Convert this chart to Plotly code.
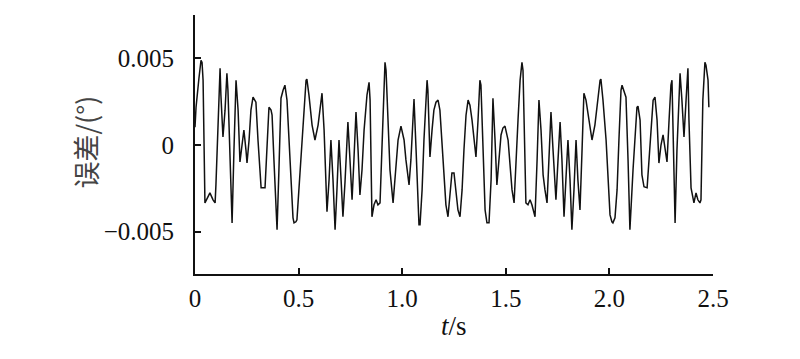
import plotly.graph_objects as go

# time (s)
t = [0.000, 0.005, 0.019, 0.029, 0.034, 0.039, 0.048, 0.063, 0.072, 0.087,
     0.097, 0.101, 0.111, 0.121, 0.125, 0.135, 0.145, 0.154, 0.159, 0.169,
     0.179, 0.188, 0.198, 0.208, 0.217, 0.227, 0.236, 0.246, 0.251, 0.261,
     0.270, 0.280, 0.294, 0.304, 0.319, 0.338, 0.347, 0.357, 0.367, 0.372,
     0.381, 0.396, 0.405, 0.415, 0.425, 0.434, 0.444, 0.454, 0.463, 0.473,
     0.478, 0.487, 0.492, 0.502, 0.516, 0.526, 0.536, 0.540, 0.550, 0.565,
     0.579, 0.594, 0.608, 0.613, 0.623, 0.637, 0.647, 0.656, 0.666, 0.676,
     0.685, 0.695, 0.705, 0.714, 0.724, 0.738, 0.748, 0.758, 0.767, 0.777,
     0.787, 0.796, 0.806, 0.816, 0.830, 0.840, 0.845, 0.854, 0.864, 0.874,
     0.883, 0.893, 0.902, 0.912, 0.917, 0.922, 0.931, 0.941, 0.956, 0.965,
     0.980, 0.994, 1.009, 1.018, 1.033, 1.042, 1.057, 1.067, 1.081, 1.086,
     1.096, 1.105, 1.120, 1.124, 1.134, 1.144, 1.153, 1.163, 1.173, 1.182,
     1.192, 1.202, 1.211, 1.221, 1.231, 1.240, 1.250, 1.260, 1.269, 1.279,
     1.289, 1.298, 1.308, 1.318, 1.327, 1.337, 1.346, 1.356, 1.366, 1.375,
     1.380, 1.390, 1.400, 1.409, 1.419, 1.429, 1.438, 1.448, 1.457, 1.467,
     1.477, 1.486, 1.496, 1.511, 1.520, 1.530, 1.540, 1.549, 1.559, 1.569,
     1.578, 1.583, 1.593, 1.597, 1.607, 1.617, 1.626, 1.641, 1.651, 1.660,
     1.670, 1.680, 1.689, 1.699, 1.708, 1.718, 1.728, 1.742, 1.752, 1.762,
     1.771, 1.781, 1.790, 1.800, 1.810, 1.819, 1.829, 1.839, 1.848, 1.858,
     1.868, 1.877, 1.887, 1.897, 1.906, 1.916, 1.930, 1.945, 1.955, 1.959,
     1.969, 1.984, 1.993, 2.003, 2.012, 2.017, 2.027, 2.037, 2.046, 2.056,
     2.061, 2.070, 2.080, 2.090, 2.099, 2.114, 2.124, 2.133, 2.138, 2.148,
     2.157, 2.167, 2.182, 2.196, 2.211, 2.220, 2.230, 2.239, 2.249, 2.259,
     2.268, 2.278, 2.288, 2.297, 2.302, 2.307, 2.317, 2.326, 2.341, 2.350,
     2.360, 2.370, 2.379, 2.384, 2.394, 2.408, 2.418, 2.427, 2.437, 2.442,
     2.451, 2.461, 2.466, 2.476, 2.480]

# error (deg)
err = [0.00103, 0.00218, 0.00385, 0.00489, 0.00477, 0.00374, -0.00334, -0.00293, -0.00276, -0.00316,
       -0.00334, -0.00230, 0.00144, 0.00443, 0.00288, 0.00046, 0.00201, 0.00414, 0.00316, -0.00144,
       -0.00449, -0.00029, 0.00374, 0.00201, -0.00098, 0.00000, 0.00086, -0.00029, -0.00104, 0.00029,
       0.00201, 0.00276, 0.00247, 0.00029, -0.00247, -0.00247, -0.00029, 0.00218, 0.00201, 0.00172,
       -0.00086, -0.00489, -0.00144, 0.00270, 0.00316, 0.00345, 0.00259, 0.00029, -0.00259, -0.00420,
       -0.00449, -0.00443, -0.00431, -0.00259, 0.00029, 0.00201, 0.00374, 0.00380, 0.00288, 0.00115,
       0.00029, 0.00115, 0.00259, 0.00299, 0.00086, -0.00385, -0.00201, 0.00029, -0.00201, -0.00489,
       -0.00259, 0.00029, -0.00201, -0.00414, -0.00213, 0.00132, -0.00086, -0.00316, -0.00086, 0.00190,
       -0.00029, -0.00288, -0.00144, 0.00086, 0.00288, 0.00362, 0.00259, -0.00414, -0.00345, -0.00316,
       -0.00345, -0.00334, -0.00029, 0.00374, 0.00477, 0.00431, 0.00144, -0.00144, -0.00334, -0.00201,
       0.00029, 0.00109, 0.00029, -0.00086, -0.00230, -0.00086, 0.00265, -0.00029, -0.00460, -0.00460,
       -0.00259, 0.00029, 0.00374, 0.00316, -0.00069, 0.00086, 0.00201, 0.00247, 0.00259, 0.00201,
       0.00029, -0.00172, -0.00345, -0.00414, -0.00259, -0.00161, -0.00161, -0.00259, -0.00374, -0.00414,
       -0.00259, -0.00029, 0.00172, 0.00259, 0.00230, 0.00144, 0.00029, -0.00069, 0.00144, 0.00374,
       0.00345, -0.00029, -0.00374, -0.00449, -0.00449, -0.00201, 0.00270, 0.00029, -0.00230, -0.00086,
       0.00058, 0.00098, 0.00109, 0.00029, -0.00115, -0.00259, -0.00334, -0.00144, 0.00144, 0.00374,
       0.00477, 0.00431, -0.00029, -0.00334, -0.00345, -0.00316, -0.00345, -0.00414, -0.00086, 0.00259,
       0.00086, -0.00172, -0.00259, -0.00334, -0.00086, 0.00190, -0.00029, -0.00316, -0.00086, 0.00132,
       -0.00086, -0.00414, -0.00201, 0.00029, -0.00201, -0.00489, -0.00259, 0.00029, -0.00201, -0.00374,
       -0.00029, 0.00299, 0.00259, 0.00172, 0.00086, 0.00029, 0.00115, 0.00288, 0.00374, 0.00380,
       0.00259, 0.00029, -0.00201, -0.00403, -0.00443, -0.00449, -0.00420, -0.00259, 0.00029, 0.00316,
       0.00345, 0.00316, 0.00276, -0.00086, -0.00489, -0.00144, 0.00086, 0.00218, 0.00224, 0.00144,
       -0.00172, -0.00241, -0.00247, -0.00029, 0.00259, 0.00276, 0.00144, -0.00104, 0.00000, 0.00058,
       -0.00029, -0.00098, 0.00144, 0.00345, 0.00374, 0.00144, -0.00449, -0.00029, 0.00414, 0.00259,
       0.00046, 0.00259, 0.00443, 0.00144, -0.00247, -0.00334, -0.00276, -0.00316, -0.00334, -0.00316,
       0.00259, 0.00477, 0.00460, 0.00374, 0.00218]

x_tickvals = [0, 0.5, 1.0, 1.5, 2.0, 2.5]
x_ticktext = ["0", "0.5", "1.0", "1.5", "2.0", "2.5"]
y_tickvals = [-0.005, 0, 0.005]
y_ticktext = ["\u22120.005", "0", "0.005"]

fig = go.Figure()
fig.add_trace(go.Scatter(x=t, y=err, mode="lines",
                         line=dict(color="#111111", width=1.5),
                         showlegend=False, hoverinfo="skip"))

serif = "Liberation Serif, Times New Roman, serif"
fig.update_layout(
    width=800, height=359,
    margin=dict(l=187, r=95, t=7, b=93, autoexpand=False),
    paper_bgcolor="white", plot_bgcolor="white",
    font=dict(family=serif, size=25, color="#111111"),
    xaxis=dict(range=[0, 2.5], tickvals=x_tickvals, ticktext=x_ticktext,
               showgrid=False, zeroline=False, showline=True,
               linecolor="#111111", linewidth=2,
               ticks="inside", ticklen=6, tickwidth=2, tickcolor="#111111",
               ticklabelstandoff=1,
               tickfont=dict(family=serif, size=25, color="#111111")),
    yaxis=dict(range=[-0.00744, 0.0075], tickvals=y_tickvals, ticktext=y_ticktext,
               showgrid=False, zeroline=False, showline=True,
               linecolor="#111111", linewidth=2,
               ticks="inside", ticklen=6, tickwidth=2, tickcolor="#111111",
               ticklabelstandoff=14,
               tickfont=dict(family=serif, size=25, color="#111111")),
    annotations=[
        dict(text="误差/(°)", xref="paper", yref="paper", x=0, y=0.5,
             xanchor="center", yanchor="middle", xshift=-110, yshift=2,
             textangle=-90, showarrow=False,
             font=dict(family="Noto Sans CJK SC, " + serif, size=27, color="#444444")),
        dict(text="<i>t</i>/s", xref="paper", yref="paper", x=0.5, y=0,
             xanchor="center", yanchor="middle", yshift=-52,
             showarrow=False,
             font=dict(family=serif, size=27, color="#111111")),
    ],
)

fig.write_html("out.html")
